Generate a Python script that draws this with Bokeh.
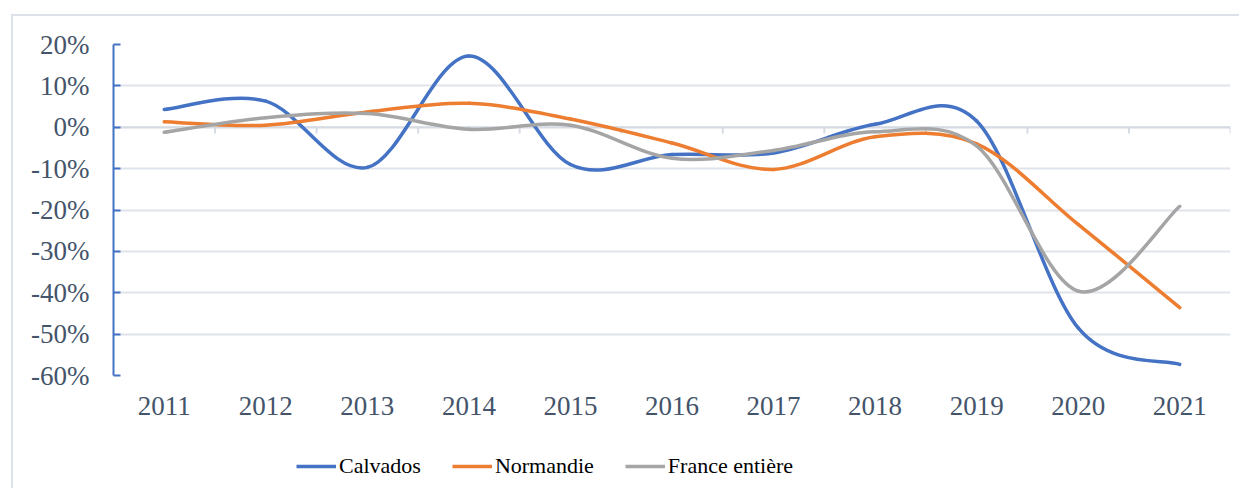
import numpy as np
from bokeh.plotting import figure
from bokeh.layouts import column
from bokeh.models import FixedTicker, Legend, LegendItem, ColumnDataSource, Span, Range1d
from bokeh.embed import file_html
from bokeh.resources import INLINE

years = ["2011", "2012", "2013", "2014", "2015", "2016", "2017", "2018", "2019", "2020", "2021"]
calvados = [4.3, 6.3, -9.7, 17.2, -9.0, -6.6, -6.2, 0.7, 1.5, -48.5, -57.3]
normandie = [1.3, 0.5, 3.7, 5.8, 2.0, -3.8, -10.2, -2.3, -4.0, -23.5, -43.6]
france = [-1.2, 2.3, 3.3, -0.5, 0.5, -7.5, -5.6, -1.1, -4.5, -39.6, -19.1]
series_names = ["Calvados", "Normandie", "France entière"]
series_colors = ["#4472C4", "#ED7D31", "#A5A5A5"]
y_ticks = [-60, -50, -40, -30, -20, -10, 0, 10, 20]

AXIS_TEXT = "#44546A"
GRID = "#DFE3EA"
FONT = "Liberation Serif"
W = 1226


def smooth_segments(vals):
    """Excel-like smoothed line: cubic Bezier control points (Catmull-Rom, 1/6)."""
    xs = np.arange(len(vals), dtype=float)
    ys = np.asarray(vals, dtype=float)
    n = len(ys)
    px = np.concatenate([[xs[0]], xs, [xs[-1]]])
    py = np.concatenate([[ys[0]], ys, [ys[-1]]])
    d = dict(x0=[], y0=[], x1=[], y1=[], cx0=[], cy0=[], cx1=[], cy1=[])
    for i in range(n - 1):
        j = i + 1
        d["x0"].append(px[j]); d["y0"].append(py[j])
        d["x1"].append(px[j + 1]); d["y1"].append(py[j + 1])
        d["cx0"].append(px[j] + (px[j + 1] - px[j - 1]) / 6)
        d["cy0"].append(py[j] + (py[j + 1] - py[j - 1]) / 6)
        d["cx1"].append(px[j + 1] - (px[j + 2] - px[j]) / 6)
        d["cy1"].append(py[j + 1] - (py[j + 2] - py[j]) / 6)
    return ColumnDataSource(d)


p = figure(width=W, height=429, output_backend="svg", toolbar_location=None,
           x_range=Range1d(-0.5, len(years) - 0.5), y_range=Range1d(y_ticks[0], y_ticks[-1]),
           min_border_left=100, min_border_right=9, min_border_top=28, min_border_bottom=70)
p.outline_line_color = None
p.background_fill_color = "white"
p.border_fill_color = "white"

p.xgrid.grid_line_color = None
p.ygrid.ticker = FixedTicker(ticks=y_ticks)
p.ygrid.grid_line_color = GRID
p.ygrid.grid_line_width = 2

p.yaxis.ticker = FixedTicker(ticks=y_ticks)
p.yaxis.major_label_overrides = {t: f"{t}%" for t in y_ticks}
p.yaxis.axis_line_color = "#4472C4"
p.yaxis.axis_line_width = 2
p.yaxis.major_tick_line_color = "#4472C4"
p.yaxis.major_tick_line_width = 2
p.yaxis.major_tick_in = 7
p.yaxis.major_tick_out = 0
p.yaxis.minor_tick_line_color = None
p.yaxis.major_label_text_font = FONT
p.yaxis.major_label_text_font_size = "27px"
p.yaxis.major_label_text_color = AXIS_TEXT
p.yaxis.major_label_standoff = 24

p.xaxis.ticker = FixedTicker(ticks=list(range(len(years))))
p.xaxis.major_label_overrides = {i: y for i, y in enumerate(years)}
p.xaxis.axis_line_color = None
p.xaxis.major_tick_line_color = None
p.xaxis.minor_tick_line_color = None
p.xaxis.major_label_text_font = FONT
p.xaxis.major_label_text_font_size = "27px"
p.xaxis.major_label_text_color = AXIS_TEXT
p.xaxis.major_label_standoff = 15

p.add_layout(Span(location=0, dimension="width", line_color="#D6DBE3", line_width=2, level="underlay"))
bx = [i + 0.5 for i in range(len(years))]
p.segment(x0=bx, y0=[0] * len(bx), x1=bx, y1=[-1.5] * len(bx), line_color="#D6DBE3", line_width=2)

# legend strip below the chart (its ranges lie away from the data, so only the legend shows)
pl = figure(width=W, height=43, output_backend="svg", toolbar_location=None,
            x_range=Range1d(1000, 1001), y_range=Range1d(1000, 1001),
            x_axis_location=None, y_axis_location=None,
            min_border_left=0, min_border_right=0, min_border_top=0, min_border_bottom=0)
pl.grid.visible = False
pl.outline_line_color = None
pl.background_fill_color = "white"
pl.border_fill_color = "white"

items = []
for name, vals, col in zip(series_names, [calvados, normandie, france], series_colors):
    src = smooth_segments(vals)
    p.bezier(x0="x0", y0="y0", x1="x1", y1="y1", cx0="cx0", cy0="cy0", cx1="cx1", cy1="cy1",
             source=src, line_color=col, line_width=3.5, line_cap="round")
    proxy = pl.line(x=list(range(len(years))), y=vals, line_color=col, line_width=3.5)
    items.append(LegendItem(label=name, renderers=[proxy]))

legend = Legend(items=items, orientation="horizontal", location=(183, 9),
                glyph_width=40, glyph_height=20, label_standoff=3, spacing=31,
                padding=0, margin=0, border_line_color=None, background_fill_alpha=0,
                label_text_font=FONT, label_text_font_size="22px", label_text_color="black",
                label_height=20)
pl.add_layout(legend)

layout = column(p, pl, spacing=0)
layout.styles = {"margin-left": "11px", "margin-top": "14px",
                 "border-left": "2px solid #DCE1EA", "border-top": "2px solid #DCE1EA"}

open("out.html", "w").write(file_html(layout, INLINE))
